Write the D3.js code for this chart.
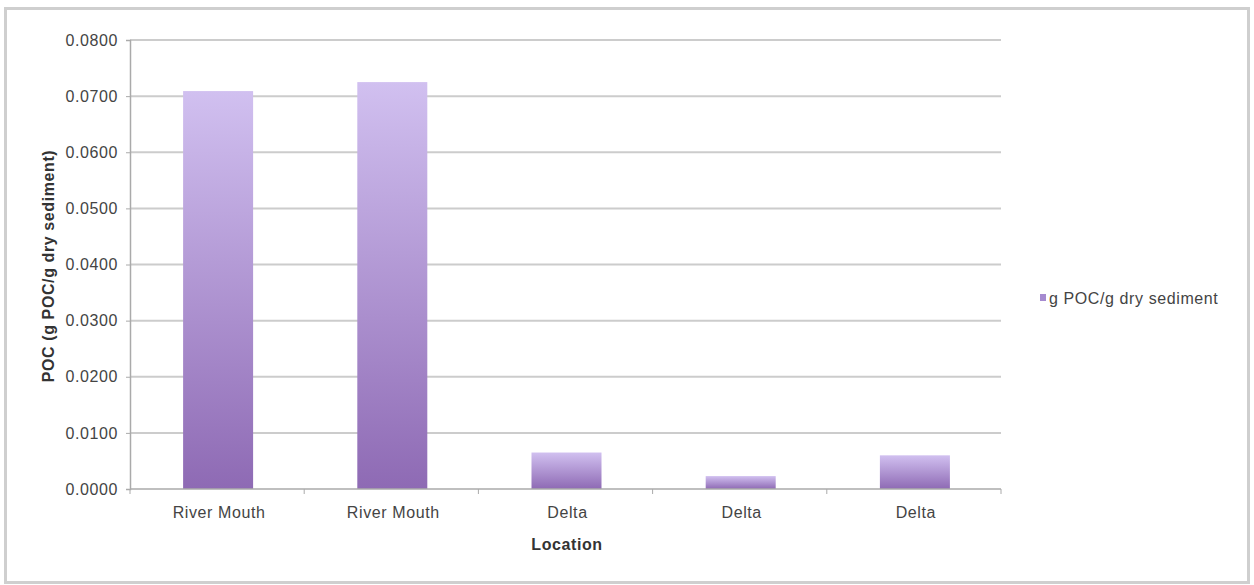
<!DOCTYPE html>
<html>
<head>
<meta charset="utf-8">
<script src="https://cdn.jsdelivr.net/npm/d3@7"></script>
<style>
  body { margin: 0; background: #fff; }
  svg { display: block; font-family: "Liberation Sans", Arial, Helvetica, sans-serif; }
  text { letter-spacing: 0.6px; }
</style>
</head>
<body>
<svg id="chart" width="1254" height="585"></svg>
<script>
const categories = ["River Mouth", "River Mouth", "Delta", "Delta", "Delta"];
const values = [0.0709, 0.0725, 0.0065, 0.0023, 0.0060];
const yTicks = [0, 0.01, 0.02, 0.03, 0.04, 0.05, 0.06, 0.07, 0.08];
const seriesName = "g POC/g dry sediment";
const yTitle = "POC (g POC/g dry sediment)";
const xTitle = "Location";

const svg = d3.select("#chart");
const mLeft = 130, mRight = 1001, mTop = 40, mBottom = 489;
const fs = "16px";

// outer frame
svg.append("rect").attr("x", 5.5).attr("y", 8.5).attr("width", 1243).attr("height", 574)
  .attr("fill", "#fff").attr("stroke", "#cfcfcf").attr("stroke-width", 3);

const defs = svg.append("defs");
const grad = defs.append("linearGradient").attr("id", "barGrad")
  .attr("x1", 0).attr("y1", 0).attr("x2", 0).attr("y2", 1);
grad.append("stop").attr("offset", "0%").attr("stop-color", "#d1c0f0");
grad.append("stop").attr("offset", "100%").attr("stop-color", "#8e6ab4");

const x = d3.scaleBand().domain(d3.range(categories.length)).range([mLeft, mRight]).padding(0);
const y = d3.scaleLinear().domain([0, 0.08]).range([mBottom, mTop]);

// gridlines
svg.append("g").selectAll("line").data(yTicks.filter(d => d > 0)).join("line")
  .attr("x1", mLeft).attr("x2", mRight)
  .attr("y1", d => y(d)).attr("y2", d => y(d))
  .attr("stroke", "#cccccc").attr("stroke-width", 2);

// bars
const bw = 70;
svg.append("g").selectAll("rect").data(values).join("rect")
  .attr("x", (d, i) => x(i) + x.bandwidth() / 2 - bw / 2 + 1)
  .attr("y", d => y(d))
  .attr("width", bw)
  .attr("height", d => mBottom - y(d))
  .attr("fill", "url(#barGrad)");

// y axis
const yAxis = d3.axisLeft(y).tickValues(yTicks).tickFormat(d3.format(".4f")).tickSize(4).tickPadding(8);
const gy = svg.append("g").attr("transform", `translate(${mLeft},0)`).call(yAxis);
gy.select(".domain").attr("stroke", "#aaaaaa").attr("stroke-width", 1.5);
gy.selectAll(".tick line").attr("stroke", "#aaaaaa");
gy.selectAll(".tick text").attr("fill", "#444").style("font-size", fs)
  .style("font-family", "'Liberation Sans', Arial, sans-serif");

// x axis
const gx = svg.append("g").attr("transform", `translate(0,${mBottom})`);
gx.append("line").attr("x1", mLeft).attr("x2", mRight).attr("y1", 0).attr("y2", 0)
  .attr("stroke", "#aaaaaa").attr("stroke-width", 1.5);
gx.selectAll("line.tk").data(d3.range(categories.length + 1)).join("line").attr("class", "tk")
  .attr("x1", i => mLeft + i * x.step()).attr("x2", i => mLeft + i * x.step())
  .attr("y1", 0).attr("y2", 5).attr("stroke", "#aaaaaa");
gx.selectAll("text").data(categories).join("text")
  .attr("x", (d, i) => x(i) + x.bandwidth() / 2 + 2).attr("y", 29)
  .attr("text-anchor", "middle").attr("fill", "#444").style("font-size", fs)
  .text(d => d);

// axis titles
svg.append("text").attr("x", 567).attr("y", 550).attr("text-anchor", "middle")
  .attr("font-weight", "bold").attr("fill", "#333").style("font-size", fs).text(xTitle);
svg.append("text").attr("transform", "translate(54,266) rotate(-90)").attr("text-anchor", "middle")
  .attr("font-weight", "bold").attr("fill", "#333").style("font-size", fs).text(yTitle);

// legend
const lg = svg.append("g").attr("transform", "translate(1040,294)");
lg.append("rect").attr("width", 6).attr("height", 7).attr("fill", "#a58ad0");
lg.append("text").attr("x", 9).attr("y", 10).attr("fill", "#444").style("font-size", fs).text(seriesName);
</script>
</body>
</html>
